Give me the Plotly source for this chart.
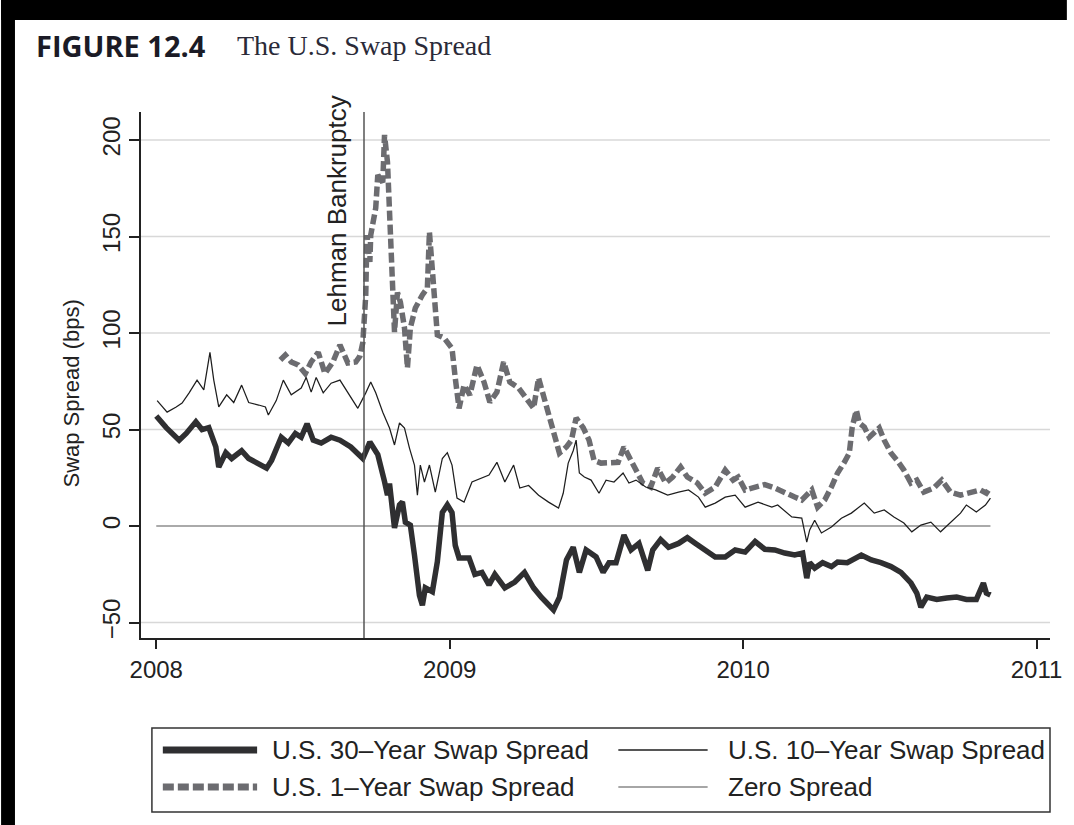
import plotly.graph_objects as go

# ---------------- data (decimal years, basis points) ----------------
y30_dates = [2008.000, 2008.034, 2008.078, 2008.102, 2008.135, 2008.156, 2008.179, 2008.203, 2008.213, 2008.237,
             2008.257, 2008.291, 2008.315, 2008.349, 2008.376, 2008.393, 2008.426, 2008.450, 2008.474, 2008.494,
             2008.514, 2008.535, 2008.562, 2008.596, 2008.626, 2008.663, 2008.694, 2008.704, 2008.728, 2008.755,
             2008.778, 2008.788, 2008.795, 2008.812, 2008.829, 2008.839, 2008.849, 2008.866, 2008.880, 2008.897,
             2008.907, 2008.917, 2008.941, 2008.958, 2008.975, 2008.992, 2009.008, 2009.019, 2009.032, 2009.066,
             2009.086, 2009.110, 2009.134, 2009.154, 2009.188, 2009.222, 2009.255, 2009.286, 2009.313, 2009.337,
             2009.354, 2009.374, 2009.398, 2009.421, 2009.442, 2009.465, 2009.499, 2009.523, 2009.543, 2009.567,
             2009.594, 2009.618, 2009.645, 2009.675, 2009.692, 2009.719, 2009.746, 2009.780, 2009.810, 2009.838,
             2009.871, 2009.905, 2009.939, 2009.973, 2010.007, 2010.041, 2010.074, 2010.108, 2010.142, 2010.176,
             2010.203, 2010.217, 2010.227, 2010.244, 2010.271, 2010.301, 2010.322, 2010.355, 2010.403, 2010.437,
             2010.470, 2010.504, 2010.538, 2010.572, 2010.592, 2010.606, 2010.626, 2010.660, 2010.694, 2010.728,
             2010.761, 2010.795, 2010.819, 2010.829, 2010.843]
y30_vals = [57, 51, 44.5, 48, 54, 50, 51, 41, 30.5, 38,
            35, 39, 35, 32.6, 30, 34, 46, 43, 48, 46,
            53, 44.5, 43, 46, 44.5, 41, 36, 35, 43.5, 37,
            23, 16, 22, -1, 11, 12.5, 2, 0.5, -15, -36,
            -41, -32, -34, -18.5, 7, 11, 7, -10, -16.5, -16.5,
            -25, -24, -30.5, -25, -32, -29, -24, -32, -37, -41,
            -43.5, -37, -17.6, -11, -24, -12.4, -16, -24, -19, -19,
            -4.7, -12.4, -9, -23, -12.4, -7, -11, -9, -6, -9,
            -12.4, -16, -16, -12.4, -13.5, -8, -12, -12.4, -14, -15,
            -14, -27, -19, -21.8, -19, -21, -18.6, -19, -15, -17.6,
            -19, -21, -24, -29.5, -34.7, -42, -36.8, -38, -37.3, -36.8,
            -38, -38, -29.5, -34.7, -35.7]

y10_dates = [2008.003, 2008.037, 2008.068, 2008.088, 2008.112, 2008.139, 2008.162, 2008.183, 2008.196, 2008.213,
             2008.240, 2008.264, 2008.291, 2008.315, 2008.349, 2008.372, 2008.382, 2008.409, 2008.433, 2008.460,
             2008.494, 2008.511, 2008.528, 2008.545, 2008.569, 2008.596, 2008.626, 2008.653, 2008.687, 2008.714,
             2008.731, 2008.748, 2008.772, 2008.795, 2008.812, 2008.829, 2008.846, 2008.863, 2008.880, 2008.890,
             2008.900, 2008.914, 2008.931, 2008.951, 2008.975, 2008.992, 2009.008, 2009.025, 2009.049, 2009.076,
             2009.110, 2009.134, 2009.161, 2009.188, 2009.218, 2009.239, 2009.269, 2009.303, 2009.337, 2009.371,
             2009.387, 2009.404, 2009.421, 2009.431, 2009.442, 2009.459, 2009.482, 2009.509, 2009.533, 2009.560,
             2009.591, 2009.611, 2009.635, 2009.668, 2009.702, 2009.743, 2009.780, 2009.814, 2009.848, 2009.871,
             2009.905, 2009.939, 2009.973, 2010.007, 2010.051, 2010.098, 2010.118, 2010.166, 2010.200, 2010.217,
             2010.227, 2010.244, 2010.267, 2010.301, 2010.335, 2010.369, 2010.413, 2010.447, 2010.481, 2010.514,
             2010.548, 2010.575, 2010.606, 2010.640, 2010.673, 2010.707, 2010.741, 2010.761, 2010.795, 2010.826,
             2010.843]
y10_vals = [65, 59, 61.7, 63.7, 69, 75.6, 70.5, 90, 75.6, 61.7,
            68, 64, 73, 64, 62.7, 61.7, 57.5, 65, 75.6, 68,
            71.5, 77, 69.4, 77, 69, 74, 75.6, 69.4, 61, 69,
            74.6, 69, 59, 50.8, 42, 53.4, 50.8, 40.4, 31.6, 16,
            31.6, 22.8, 31.6, 17.6, 35, 38, 31.6, 14.5, 12.4, 22.8,
            24.9, 26.4, 33, 22.8, 31.6, 19.7, 21, 16, 12.4, 9.3,
            17, 32.6, 39, 44.5, 27.5, 25.4, 23.8, 17, 23.8, 22.8,
            27.5, 22.3, 23.8, 20.2, 18.7, 16, 17.6, 18.7, 15, 9.8,
            11.9, 15, 16, 9.8, 12.4, 9.8, 10.9, 4.7, 4.1, -8.3,
            -2, 3, -3.6, -0.5, 4, 6.7, 11.9, 6.7, 8.3, 4.7,
            1.6, -3, 0.5, 2, -3, 1.6, 6.7, 10.9, 7.3, 10.9,
            14.5]

y1_dates = [2008.423, 2008.440, 2008.460, 2008.484, 2008.508, 2008.528, 2008.552, 2008.575, 2008.602, 2008.626,
            2008.653, 2008.680, 2008.694, 2008.704, 2008.714, 2008.718, 2008.728, 2008.731, 2008.748, 2008.755,
            2008.772, 2008.778, 2008.788, 2008.795, 2008.799, 2008.805, 2008.812, 2008.822, 2008.832, 2008.846,
            2008.856, 2008.866, 2008.883, 2008.907, 2008.924, 2008.931, 2008.941, 2008.951, 2008.958, 2008.981,
            2009.008, 2009.019, 2009.032, 2009.049, 2009.069, 2009.093, 2009.117, 2009.137, 2009.161, 2009.184,
            2009.205, 2009.235, 2009.262, 2009.286, 2009.303, 2009.320, 2009.337, 2009.354, 2009.374, 2009.398,
            2009.415, 2009.431, 2009.455, 2009.475, 2009.492, 2009.516, 2009.543, 2009.574, 2009.594, 2009.611,
            2009.635, 2009.658, 2009.685, 2009.709, 2009.736, 2009.760, 2009.787, 2009.810, 2009.844, 2009.871,
            2009.905, 2009.939, 2009.966, 2009.983, 2010.007, 2010.041, 2010.074, 2010.108, 2010.142, 2010.176,
            2010.200, 2010.234, 2010.254, 2010.278, 2010.301, 2010.322, 2010.345, 2010.362, 2010.372, 2010.386,
            2010.396, 2010.413, 2010.430, 2010.447, 2010.464, 2010.481, 2010.504, 2010.525, 2010.548, 2010.572,
            2010.592, 2010.616, 2010.650, 2010.677, 2010.707, 2010.741, 2010.775, 2010.809, 2010.829, 2010.843]
y1_vals = [86, 88.6, 85, 83.4, 79, 85, 90, 79, 85, 93.8,
           84.5, 85, 88, 95, 119.7, 150.8, 136.8, 150.8, 164.8, 181.9,
           178, 202.6, 188.6, 162.7, 136.8, 110.9, 100.5, 121, 116, 102.6,
           81.9, 102.6, 113, 119.7, 123.3, 152.3, 133.7, 119.7, 99, 97.4,
           92, 76.7, 61, 73, 67.9, 83.4, 74.6, 64.2, 69.4, 85,
           74.6, 71.5, 66.3, 61, 76.7, 67.9, 57.5, 48, 37.8, 41,
           44.5, 56, 51, 44.5, 34, 32.6, 33, 33, 41, 35.8,
           29, 22.3, 20.2, 30, 22.3, 25.4, 30.6, 25.4, 22.3, 17,
           20.2, 29, 23.8, 25.4, 18.7, 20.2, 21.5, 19.7, 17, 15,
           13.5, 18.7, 9.8, 13.5, 20.2, 27.5, 33, 37.8, 51.3, 60,
           53.4, 51.3, 46, 48.7, 50.8, 44.5, 37.8, 34, 29, 22.3,
           23.8, 17.6, 19.7, 23.8, 17.6, 16, 17.6, 18.7, 17, 20.2]

zero_dates = [2008.000, 2010.843]
zero_vals = [0, 0]

lehman_date = 2008.708
lehman_label = "Lehman Bankruptcy"

year_ticks = [2008, 2009, 2010, 2011]
y_ticks = [-50, 0, 50, 100, 150, 200]
grid_vals = [-50, 50, 100, 150, 200]

series_names = ["U.S. 30\u2013Year Swap Spread", "U.S. 10\u2013Year Swap Spread",
                "U.S. 1\u2013Year Swap Spread", "Zero Spread"]

# ---------------- styles ----------------
C30 = "#2f2f31"
C10 = "#1e1e1e"
C1 = "#6c6c70"
CZ = "#8e8e8e"
GRID = "#d8d8d8"
FONT = "Liberation Sans, Arial, sans-serif"
TXT = "#222222"

W, H = 1074, 825
L, R, T, B = 141, 17, 112, 187
PW, PH = W - L - R, H - T - B


def px(xp):
    return (xp - L) / PW


def py(yp):
    return (H - B - yp) / PH


fig = go.Figure()

fig.add_trace(go.Scatter(x=zero_dates, y=zero_vals, mode="lines", name=series_names[3],
                         line=dict(color=CZ, width=1.6)))
fig.add_trace(go.Scatter(x=y1_dates, y=y1_vals, mode="lines", name=series_names[2],
                         line=dict(color=C1, width=5.5, dash="10px,4px")))
fig.add_trace(go.Scatter(x=y10_dates, y=y10_vals, mode="lines", name=series_names[1],
                         line=dict(color=C10, width=1.25)))
fig.add_trace(go.Scatter(x=y30_dates, y=y30_vals, mode="lines", name=series_names[0],
                         line=dict(color=C30, width=5.5)))

shapes = []
for g in grid_vals:
    shapes.append(dict(type="line", xref="paper", yref="y", x0=0, x1=1, y0=g, y1=g,
                       line=dict(color=GRID, width=1.5), layer="below"))
shapes.append(dict(type="line", xref="x", yref="paper", x0=lehman_date, x1=lehman_date, y0=0, y1=1,
                   line=dict(color="#555555", width=1.5)))

# black scan frame
shapes.append(dict(type="rect", xref="paper", yref="paper", x0=px(0), x1=px(W), y0=py(20), y1=py(0),
                   fillcolor="black", line=dict(width=0), layer="above"))
shapes.append(dict(type="rect", xref="paper", yref="paper", x0=px(0), x1=px(14), y0=py(H), y1=py(0),
                   fillcolor="black", line=dict(width=0), layer="above"))

# manual legend
shapes.append(dict(type="rect", xref="paper", yref="paper", x0=px(152), x1=px(1057), y0=py(812), y1=py(728),
                   line=dict(color="#333333", width=1.5), fillcolor="rgba(0,0,0,0)"))
row1, row2 = py(750), py(787)
shapes.append(dict(type="line", xref="paper", yref="paper", x0=px(163), x1=px(258), y0=row1, y1=row1,
                   line=dict(color=C30, width=7)))
shapes.append(dict(type="line", xref="paper", yref="paper", x0=px(163), x1=px(258), y0=row2, y1=row2,
                   line=dict(color=C1, width=7, dash="11px,4px")))
shapes.append(dict(type="line", xref="paper", yref="paper", x0=px(622), x1=px(712), y0=row1, y1=row1,
                   line=dict(color=C10, width=1.3)))
shapes.append(dict(type="line", xref="paper", yref="paper", x0=px(622), x1=px(712), y0=row2, y1=row2,
                   line=dict(color="#a6a6a6", width=1.8)))

annotations = [
    dict(text="<b>FIGURE 12.4</b>", xref="paper", yref="paper", x=px(33), y=py(46), xanchor="left",
         yanchor="middle", showarrow=False, font=dict(family="Open Sans, sans-serif", size=29, color="#1b1b26")),
    dict(text="The U.S. Swap Spread", xref="paper", yref="paper", x=px(236), y=py(46), xanchor="left",
         yanchor="middle", showarrow=False, font=dict(family="Liberation Serif, serif", size=28, color="#2a2a38")),
    dict(text="Swap Spread (bps)", xref="paper", yref="paper", x=px(70), y=py(394), textangle=-90,
         xanchor="center", yanchor="middle", showarrow=False, font=dict(family=FONT, size=22, color=TXT)),
    dict(text=lehman_label, xref="x", yref="paper", x=lehman_date, xshift=-11, y=py(94), textangle=-90,
         xanchor="right", yanchor="top", showarrow=False, font=dict(family=FONT, size=26, color=TXT)),
    dict(text=series_names[0], xref="paper", yref="paper", x=px(271), y=row1, xanchor="left", yanchor="middle",
         showarrow=False, font=dict(family=FONT, size=26, color=TXT)),
    dict(text=series_names[2], xref="paper", yref="paper", x=px(271), y=row2, xanchor="left", yanchor="middle",
         showarrow=False, font=dict(family=FONT, size=26, color=TXT)),
    dict(text=series_names[1], xref="paper", yref="paper", x=px(731), y=row1, xanchor="left", yanchor="middle",
         showarrow=False, font=dict(family=FONT, size=26, color=TXT)),
    dict(text=series_names[3], xref="paper", yref="paper", x=px(731), y=row2, xanchor="left", yanchor="middle",
         showarrow=False, font=dict(family=FONT, size=26, color=TXT)),
]

fig.update_layout(
    width=W, height=H,
    margin=dict(l=L, r=R, t=T, b=B),
    paper_bgcolor="white", plot_bgcolor="white",
    showlegend=False,
    shapes=shapes,
    annotations=annotations,
    font=dict(family=FONT, color=TXT),
    xaxis=dict(range=[2007.948, 2011.046], tickmode="array", tickvals=year_ticks,
               ticktext=[str(t) for t in year_ticks], showgrid=False, zeroline=False,
               showline=True, linecolor="#222222", linewidth=1.8, ticks="outside", ticklen=9,
               tickwidth=1.5, tickcolor="#222222", tickfont=dict(size=24, family=FONT, color=TXT)),
    yaxis=dict(range=[-58, 214.5], tickmode="array", tickvals=y_ticks,
               ticktext=[str(t).replace("-", "\u2212") for t in y_ticks], showgrid=False, zeroline=False,
               showline=True, linecolor="#222222", linewidth=1.8, ticks="outside", ticklen=10,
               tickwidth=1.5, tickcolor="#222222", tickangle=-90,
               tickfont=dict(size=24, family=FONT, color=TXT)),
)

fig.write_html("out.html", config={"displayModeBar": False},
               post_script="document.body.style.margin='0';document.body.style.overflow='hidden';")
